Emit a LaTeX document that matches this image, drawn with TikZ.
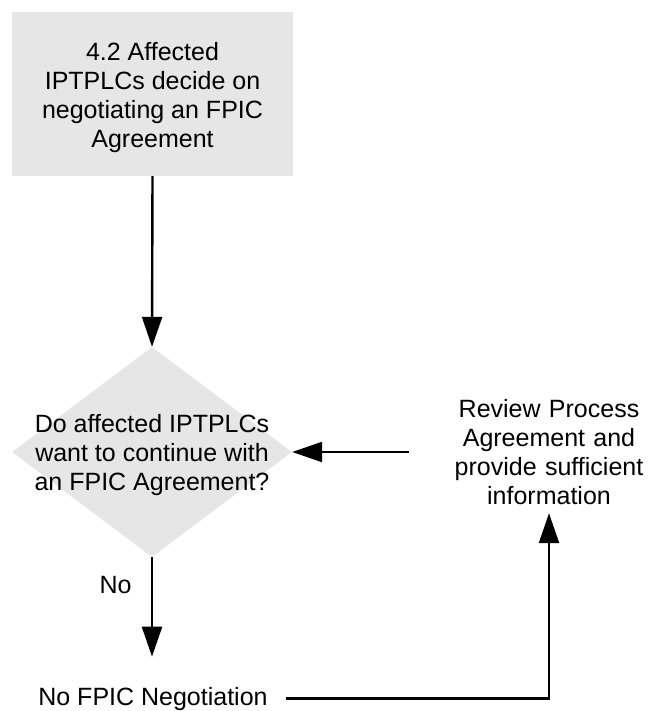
\documentclass[tikz,border=0pt]{standalone}
\usepackage{fontspec}
\setmainfont{Liberation Sans}
\usetikzlibrary{arrows.meta,shapes.geometric}
\definecolor{stepgray}{RGB}{230,230,230}
\begin{document}
\begin{tikzpicture}[x=1pt,y=-1pt,
  txt/.style={font=\fontsize{25}{29}\selectfont, align=center, inner sep=0pt},
  stepbox/.style={fill=stepgray, draw=none, minimum width=281pt, minimum height=164pt, inner sep=0pt},
  decision/.style={diamond, fill=stepgray, draw=none, minimum width=280pt, minimum height=210pt, inner sep=0pt},
  flow/.style={line width=2.4pt, -{Triangle[length=30pt,width=20pt]}},
  link/.style={line width=2.4pt}]
\useasboundingbox (0,0) rectangle (647,711);

% process step
\node[stepbox] (top) at (152.5,94) {};
\node[txt] (toptext) at ([yshift=-4pt]top.center)
  {4.2 Affected\\IPTPLCs decide on\\negotiating an FPIC\\Agreement};

% decision
\node[decision] (dec) at (152,452) {};
\node[txt] (dectext) at ([yshift=-3pt]dec.center)
  {Do affected IPTPLCs\\want to continue with\\an FPIC Agreement?};

% review step
\node[txt, text width=280pt, minimum height=122pt] (rev) at (549,452)
  {Review Process\\Agreement and\\provide sufficient\\information};

% outcome
\node[txt, anchor=base] (nolabel) at (115.5,593) {No};
\node[txt, anchor=base, inner xsep=18pt] (neg) at (153,705) {No FPIC Negotiation};

% connectors
\draw[flow] (top.south) -- (dec.north);
\draw[flow] (rev.west) -- (dec.east);
\draw[flow, shorten >=30pt] (dec.south) -- (dec.south |- neg.north);
\draw[flow] (neg.east) -| (rev.south);
\end{tikzpicture}
\end{document}
